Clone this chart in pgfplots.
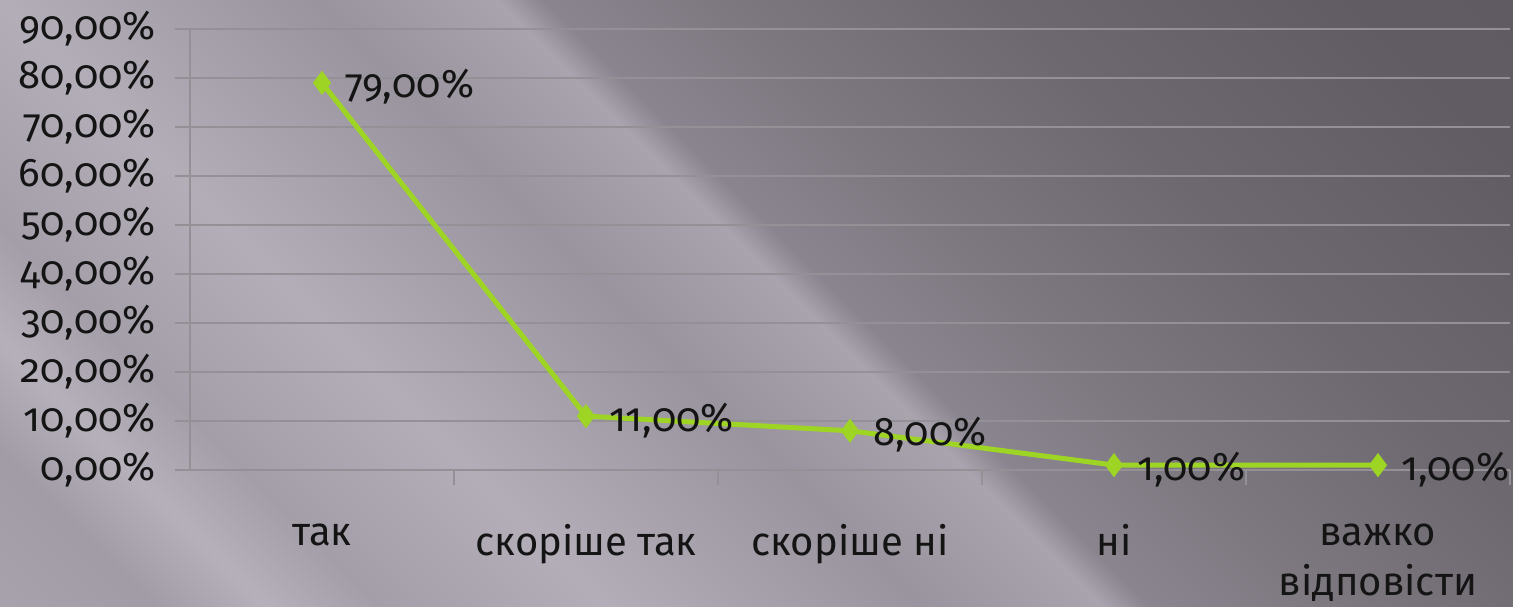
\documentclass[border=0pt]{standalone}
\usepackage{pgfplots}
\pgfplotsset{compat=1.18}
\usepackage{pgfplotstable}
\usepackage{fontspec}
\setmainfont[Numbers=OldStyle]{Fira Sans}
\definecolor{gridc}{RGB}{148,145,150}
\definecolor{lime}{RGB}{158,212,36}
\definecolor{txt}{RGB}{20,20,20}

% diagonal background shading (the middle 25bp-75bp is what is seen)
\pgfdeclarehorizontalshading{slide}{100bp}{
  rgb(0bp)=(0.68,0.66,0.70);
  rgb(26bp)=(0.66,0.64,0.68);
  rgb(30bp)=(0.63,0.61,0.65);
  rgb(32.5bp)=(0.71,0.69,0.73);
  rgb(35bp)=(0.64,0.62,0.66);
  rgb(40bp)=(0.70,0.68,0.72);
  rgb(47bp)=(0.60,0.58,0.62);
  rgb(51bp)=(0.66,0.64,0.68);
  rgb(52bp)=(0.54,0.52,0.56);
  rgb(56bp)=(0.49,0.47,0.50);
  rgb(62bp)=(0.43,0.41,0.44);
  rgb(70bp)=(0.38,0.36,0.39);
  rgb(100bp)=(0.36,0.34,0.37)}

\pgfplotstableread{
x y lab
0 79 79,00\%
1 11 11,00\%
2 8 8,00\%
3 1 1,00\%
4 1 1,00\%
}\answers

\begin{document}
\begin{tikzpicture}
% background
\begin{scope}
\clip (0,0) rectangle (756.5pt,303pt);
\shade[shading=slide, transform canvas={rotate around={45:(378pt,151pt)}}]
    (-22pt,-449pt) rectangle (778pt,751pt);
\end{scope}

\begin{axis}[
    scale only axis,
    width=660pt, height=220.5pt,
    at={(95pt,68pt)}, anchor=south west,
    xmin=-0.5, xmax=4.5, ymin=0, ymax=90,
    axis x line=bottom, axis y line=left,
    axis line style={-, draw=gridc, line width=1pt},
    ytick={0,10,...,90},
    yticklabels={{0,00\%},{10,00\%},{20,00\%},{30,00\%},{40,00\%},{50,00\%},{60,00\%},{70,00\%},{80,00\%},{90,00\%}},
    ymajorgrids,
    grid style={draw=gridc, line width=1pt},
    tick align=outside,
    major tick length=7.5pt,
    minor tick length=7.5pt,
    ytick style={draw=gridc, line width=1pt},
    xtick={0,...,4},
    xticklabels={так,скоріше так,скоріше ні,ні,{важко\\відповісти}},
    major x tick style={draw=none},
    minor xtick={0.5,1.5,...,4.5},
    minor x tick style={draw=gridc, line width=1pt},
    ticklabel style={font=\fontsize{20}{25}\selectfont, text=txt},
    yticklabel style={xshift=-6pt},
    xticklabel style={align=center, yshift=-16pt},
    clip=false,
]
\addplot[lime, line width=2.5pt, mark=diamond*, mark size=4pt,
    point meta=explicit symbolic,
    nodes near coords,
    every node near coord/.style={anchor=west, xshift=7pt, yshift=-2pt,
        font=\fontsize{20}{22}\selectfont, text=txt}]
    table[x=x, y=y, meta=lab] {\answers};
\end{axis}
\pgfresetboundingbox
\path (0,0) rectangle (756.5pt,303pt);
\end{tikzpicture}
\end{document}
